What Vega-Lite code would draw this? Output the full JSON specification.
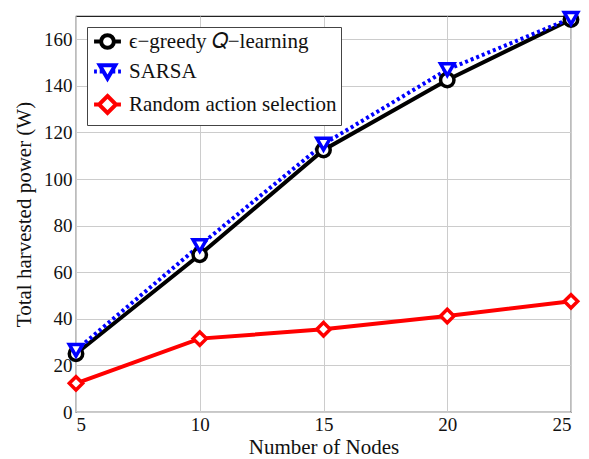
{
  "$schema": "https://vega.github.io/schema/vega-lite/v6.json",
  "width": 495,
  "height": 396,
  "autosize": {"type": "none"},
  "padding": {"left": 76, "top": 16, "right": 18, "bottom": 47},
  "background": "white",
  "config": {
    "font": "Liberation Serif",
    "view": {"stroke": "#222222", "strokeWidth": 1.2},
    "axis": {
      "labelFont": "Liberation Serif",
      "titleFont": "Liberation Serif",
      "titleFontWeight": "normal",
      "labelColor": "#111111",
      "titleColor": "#111111",
      "gridColor": "#cccccc",
      "gridWidth": 1,
      "domain": false,
      "ticks": false
    },
    "legend": {
      "orient": "none",
      "legendX": 11,
      "legendY": 11,
      "labelFont": "Liberation Serif",
      "labelFontSize": 21,
      "labelColor": "#111111",
      "symbolSize": 200,
      "symbolStrokeWidth": 4,
      "symbolFillColor": "white",
      "symbolOpacity": 1,
      "symbolOffset": 6,
      "fillColor": "white",
      "strokeColor": "#444444",
      "padding": 4,
      "rowPadding": 1,
      "labelOffset": 11,
      "labelLimit": 400
    }
  },
  "data": {
    "values": [
      {"nodes": 5, "power": 25, "series": "ϵ−greedy 𝑄−learning"},
      {"nodes": 10, "power": 67.5, "series": "ϵ−greedy 𝑄−learning"},
      {"nodes": 15, "power": 112.5, "series": "ϵ−greedy 𝑄−learning"},
      {"nodes": 20, "power": 142.5, "series": "ϵ−greedy 𝑄−learning"},
      {"nodes": 25, "power": 168.5, "series": "ϵ−greedy 𝑄−learning"},
      {"nodes": 5, "power": 26.5, "series": "SARSA"},
      {"nodes": 10, "power": 71.5, "series": "SARSA"},
      {"nodes": 15, "power": 115, "series": "SARSA"},
      {"nodes": 20, "power": 147, "series": "SARSA"},
      {"nodes": 25, "power": 169, "series": "SARSA"},
      {"nodes": 5, "power": 12.3, "series": "Random action selection"},
      {"nodes": 10, "power": 31.5, "series": "Random action selection"},
      {"nodes": 15, "power": 35.5, "series": "Random action selection"},
      {"nodes": 20, "power": 41.2, "series": "Random action selection"},
      {"nodes": 25, "power": 47.5, "series": "Random action selection"}
    ]
  },
  "encoding": {
    "x": {
      "field": "nodes",
      "type": "quantitative",
      "scale": {"domain": [5, 25], "nice": false, "zero": false},
      "axis": {"values": [5, 10, 15, 20, 25], "title": "Number of Nodes", "labelFontSize": 19, "titleFontSize": 21, "labelPadding": 3, "titlePadding": 2}
    },
    "y": {
      "field": "power",
      "type": "quantitative",
      "scale": {"domain": [0, 170], "nice": false},
      "axis": {"values": [0, 20, 40, 60, 80, 100, 120, 140, 160], "title": "Total harvested power (W)", "labelFontSize": 19, "titleFontSize": 21, "labelPadding": 4, "titlePadding": 9}
    },
    "stroke": {
      "field": "series",
      "type": "nominal",
      "title": null,
      "scale": {
        "domain": ["ϵ−greedy 𝑄−learning", "SARSA", "Random action selection"],
        "range": ["#000000", "#0000ff", "#ff0000"]
      }
    }
  },
  "layer": [
    {
      "transform": [{"filter": "datum.series === 'ϵ−greedy 𝑄−learning'"}],
      "mark": {"type": "line", "strokeWidth": 4}
    },
    {
      "transform": [{"filter": "datum.series === 'SARSA'"}],
      "mark": {"type": "line", "strokeWidth": 4, "strokeDash": [3, 3]}
    },
    {
      "transform": [{"filter": "datum.series === 'Random action selection'"}],
      "mark": {"type": "line", "strokeWidth": 4}
    },
    {
      "transform": [{"filter": "datum.series === 'ϵ−greedy 𝑄−learning'"}],
      "mark": {"type": "point", "shape": "circle", "filled": false, "fill": "white", "fillOpacity": 1, "strokeWidth": 3.5, "size": 180, "opacity": 1}
    },
    {
      "transform": [{"filter": "datum.series === 'SARSA'"}],
      "mark": {"type": "point", "shape": "triangle-down", "filled": false, "fill": "white", "fillOpacity": 1, "strokeWidth": 3.5, "size": 180, "opacity": 1}
    },
    {
      "transform": [{"filter": "datum.series === 'Random action selection'"}],
      "mark": {"type": "point", "shape": "diamond", "filled": false, "fill": "white", "fillOpacity": 1, "strokeWidth": 3.5, "size": 180, "opacity": 1}
    },
    {
      "mark": {"type": "point", "filled": false, "fill": "white", "strokeWidth": 4, "size": 200, "opacity": 0},
      "encoding": {
        "shape": {
          "field": "series",
          "type": "nominal",
          "title": null,
          "scale": {
            "domain": ["ϵ−greedy 𝑄−learning", "SARSA", "Random action selection"],
            "range": [
              "M-1.9,0H-0.9M0.9,0H1.9M0.9,0A0.9,0.9,0,1,1,-0.9,0A0.9,0.9,0,1,1,0.9,0Z",
              "M-1.9,0H-1.5M-1.1,0H-0.7M0.7,0H1.1M1.5,0H1.9M-1.1,-0.9H1.1L0,1Z",
              "M-1.9,0H-1.2M1.2,0H1.9M0,-1.2L1.2,0L0,1.2L-1.2,0Z"
            ]
          }
        }
      }
    }
  ]
}
